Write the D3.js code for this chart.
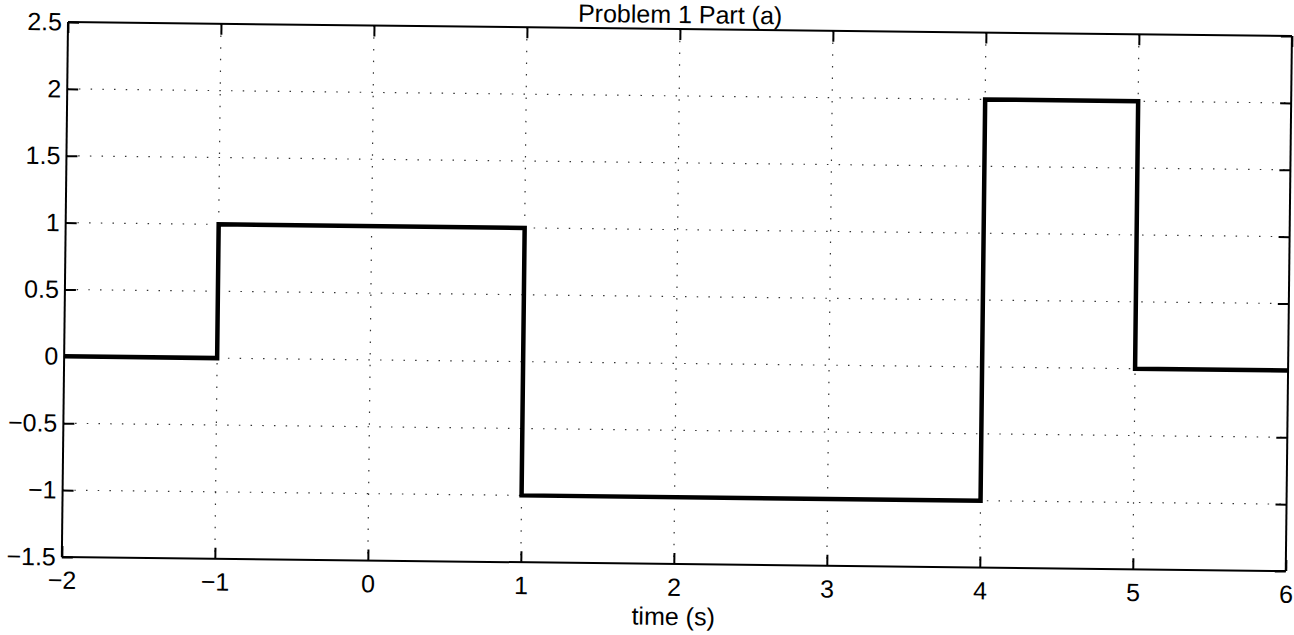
<!DOCTYPE html>
<html><head><meta charset="utf-8">
<script src="https://cdn.jsdelivr.net/npm/d3@7"></script>
<style>body{margin:0;background:#fff}svg{display:block}text{font-family:"Liberation Sans",Arial,sans-serif;fill:#000}</style>
</head><body>
<svg id="c" width="1294" height="635"></svg>
<script>
const times = [-2, -1, 1, 4, 5, 6];
const values = [0, 1, -1, 2, 0, 0];
const xTicks = [-2, -1, 0, 1, 2, 3, 4, 5, 6];
const yTicks = [-1.5, -1, -0.5, 0, 0.5, 1, 1.5, 2, 2.5];
const title = "Problem 1 Part (a)";
const xLabel = "time (s)";

const L = 68, T = 22, W = 1224, H = 535;
const svg = d3.select("#c");
const g = svg.append("g").attr("transform", `translate(${L},${T}) rotate(0.66)`);
const x = d3.scaleLinear().domain([-2, 6]).range([0, W]);
const y = d3.scaleLinear().domain([-1.5, 2.5]).range([H, 0]);
const fmt = v => String(v).replace("-", "\u2212");
const FS = 25;

// grid
g.append("g").selectAll("line").data(xTicks.slice(1, -1)).join("line")
  .attr("x1", d => x(d)).attr("x2", d => x(d)).attr("y1", 0).attr("y2", H)
  .attr("stroke", "#333").attr("stroke-width", 1.2).attr("stroke-dasharray", "1.5,10.2");
g.append("g").selectAll("line").data(yTicks.slice(1, -1)).join("line")
  .attr("y1", d => y(d)).attr("y2", d => y(d)).attr("x1", 0).attr("x2", W)
  .attr("stroke", "#333").attr("stroke-width", 1.2).attr("stroke-dasharray", "1.5,10.2");

// axes with inward ticks
const xb = g.append("g").attr("transform", `translate(0,${H})`)
  .call(d3.axisBottom(x).tickValues(xTicks).tickSize(-11).tickPadding(14).tickFormat(fmt));
const xt = g.append("g").call(d3.axisTop(x).tickValues(xTicks).tickSize(-11).tickFormat(""));
const yl = g.append("g").call(d3.axisLeft(y).tickValues(yTicks).tickSize(-11).tickPadding(6).tickFormat(fmt));
const yr = g.append("g").attr("transform", `translate(${W},0)`)
  .call(d3.axisRight(y).tickValues(yTicks).tickSize(-11).tickFormat(""));
[xb, xt, yl, yr].forEach(a => {
  a.attr("font-size", FS).attr("font-family", '"Liberation Sans",Arial,sans-serif');
  a.select(".domain").attr("stroke", "#000").attr("stroke-width", 2);
  a.selectAll(".tick line").attr("stroke", "#000").attr("stroke-width", 2);
  a.selectAll("text").attr("font-size", FS).style("font-size", FS + "px");
});
xb.select(".domain").attr("d", `M0,0H${W}`);
xt.select(".domain").attr("d", `M0,0H${W}`);
yl.select(".domain").attr("d", `M0,0V${H}`);
yr.select(".domain").attr("d", `M0,0V${H}`);

// signal
const line = d3.line().x(d => x(d[0])).y(d => y(d[1])).curve(d3.curveStepAfter);
g.append("path").datum(times.map((t, i) => [t, values[i]]))
  .attr("d", line).attr("fill", "none").attr("stroke", "#000").attr("stroke-width", 4.5)
  .attr("stroke-linejoin", "miter");

// labels
g.append("text").attr("x", W / 2).attr("y", -6).attr("text-anchor", "middle")
  .style("font-size", "25px").text(title);
g.append("text").attr("x", x(2)).attr("y", H + 61).attr("text-anchor", "middle")
  .style("font-size", FS + "px").text(xLabel);
</script>
</body></html>
